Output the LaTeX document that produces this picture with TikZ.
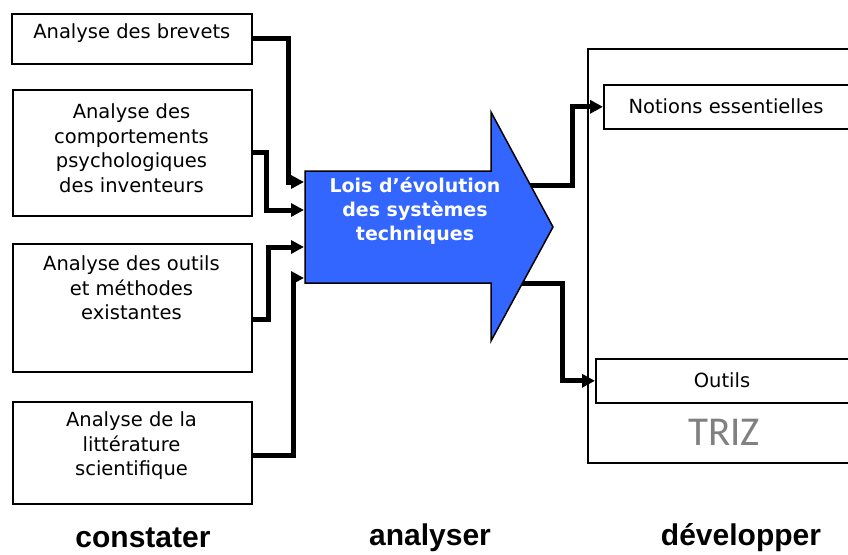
\documentclass[tikz,border=0pt]{standalone}
\usepackage{fontspec}
\setmainfont{DejaVu Sans}
\newfontfamily\etiqfont{Liberation Sans}
\newfontfamily\trizfont{Carlito}
\usetikzlibrary{arrows.meta}
\usetikzlibrary{calc}
\definecolor{bleuloi}{RGB}{51,102,255}
\definecolor{gristriz}{RGB}{128,128,128}

\begin{document}
\begin{tikzpicture}[x=1pt,y=-1pt,
  cadre/.style={draw,line width=1.6pt,fill=white,anchor=north west,inner sep=0pt},
  texte/.style={align=center,font=\fontsize{19.5}{24.5}\selectfont},
  lien/.style={line width=5pt,-{Triangle[length=13pt,width=13pt]}},
  etape/.style={font=\etiqfont\bfseries\fontsize{30}{30}\selectfont}]
\clip (0,0) rectangle (848,554);

% colonne constater
\node[cadre,minimum width=240,minimum height=50] (brevets) at (11,13) {};
\node[texte] (t-brevets) at ($(brevets.north)+(0,20)$) {Analyse des brevets};
\node[cadre,minimum width=239,minimum height=126] (inventeurs) at (12,89) {};
\node[texte] (t-inventeurs) at (131.5,148) {Analyse des\\comportements\\psychologiques\\des inventeurs};
\node[cadre,minimum width=239,minimum height=128] (methodes) at (12,243) {};
\node[texte] (t-methodes) at (131.5,288) {Analyse des outils\\et méthodes\\existantes};
\node[cadre,minimum width=239,minimum height=102] (litterature) at (12,401) {};
\node[texte] (t-litterature) at (131.5,446) {Analyse de la\\littérature\\scientifique};

% colonne developper
\node[cadre,minimum width=273,minimum height=414] (triz) at (587,48) {};
\node[cadre,minimum width=250,minimum height=44] (notions) at (603,84) {};
\node[texte] (t-notions) at (726,106) {Notions essentielles};
\node[cadre,minimum width=260,minimum height=44] (outils) at (595,358) {};
\node[texte] (t-outils) at (722,380) {Outils};
\node[text=gristriz,font=\trizfont\fontsize{41}{41}\selectfont] (t-triz) at (724,432) {TRIZ};

% entrees et sorties de la fleche
\coordinate (e1) at (304,182);
\coordinate (e2) at (304,210);
\coordinate (e3) at (304,247);
\coordinate (e4) at (304,278);
\coordinate (s1) at (520,185);
\coordinate (s2) at (518,283);

\draw[lien] (brevets.east) -- ++(36,0) |- (e1);
\draw[lien] (inventeurs.east) -- ++(14,0) |- (e2);
\draw[lien] ($(methodes.east)+(0,12)$) -- ++(16,0) |- (e3);
\draw[lien] ($(litterature.east)+(0,3)$) -- ++(41,0) |- (e4);
\draw[lien] (s1) -- ++(52,0) |- (notions.west);
\draw[lien] (s2) -- ++(44,0) |- (outils.west);

% fleche analyser
\draw[fill=bleuloi,line width=1.5pt] (305,171) -- (491,171) -- (491,112) -- (553,227)
  -- (491,341) -- (491,283) -- (305,283) -- cycle;
\node[texte,text=white,font=\bfseries\fontsize{19}{24}\selectfont] (lois) at (415,211)
  {Lois d’évolution\\des systèmes\\techniques};

\node[etape] (constater) at (143,538) {constater};
\node[etape] (analyser) at (430,538) {analyser};
\node[etape] (developper) at (741,538) {développer};

\end{tikzpicture}
\end{document}
